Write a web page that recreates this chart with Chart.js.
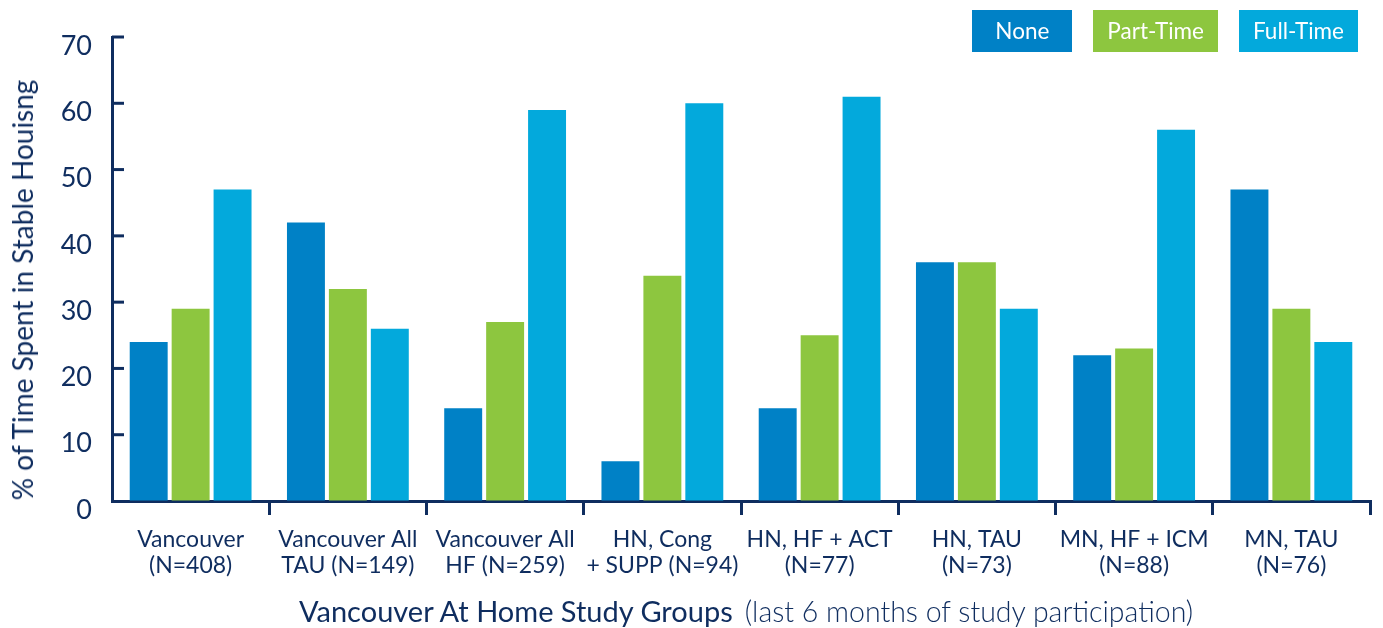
<!DOCTYPE html>
<html>
<head>
<meta charset="utf-8">
<script src="https://cdn.jsdelivr.net/npm/chart.js@4"></script>
<style>
    body { margin: 0; background: #fff; font-family: Lato, "Open Sans", sans-serif; color: #0f2d5f; }
    #wrap { position: relative; width: 1383px; height: 628px; }
    #legend { position: absolute; top: 10px; right: 25px; display: flex; gap: 21px; }
    .legend-box { height: 42px; line-height: 42px; min-width: 100px; padding: 0 14px; box-sizing: border-box;
        text-align: center; color: #fff; font-size: 22.5px; }
    #yTitle { position: absolute; left: 22px; top: 290px; transform: translate(-50%, -50%) rotate(-90deg);
        white-space: nowrap; font-size: 28px; }
    #xTitle { position: absolute; left: 299px; top: 593px; white-space: nowrap; font-size: 29px; }
    #xTitle span { font-size: 28.5px; font-weight: 300; margin-left: 12px; }
</style>
</head>
<body>
<div id="wrap">
    <canvas id="chart" width="1383" height="628"></canvas>
    <div id="legend"></div>
    <div id="yTitle">% of Time Spent in Stable Houisng</div>
    <div id="xTitle">Vancouver At Home Study Groups<span>(last 6 months of study participation)</span></div>
</div>
<script>
// Data
const categories = [
    ['Vancouver', '(N=408)'],
    ['Vancouver All', 'TAU (N=149)'],
    ['Vancouver All', 'HF (N=259)'],
    ['HN, Cong', '+ SUPP (N=94)'],
    ['HN, HF + ACT', '(N=77)'],
    ['HN, TAU', '(N=73)'],
    ['MN, HF + ICM', '(N=88)'],
    ['MN, TAU', '(N=76)']
];
const noneValues     = [24, 42, 14, 6, 14, 36, 22, 47];
const partTimeValues = [29, 32, 27, 34, 25, 36, 23, 29];
const fullTimeValues = [47, 26, 59, 60, 61, 29, 56, 24];
const seriesLabels = ['None', 'Part-Time', 'Full-Time'];
const seriesColors = ['#0081c6', '#8dc63f', '#03a9dc'];
const yTicks = [0, 10, 20, 30, 40, 50, 60, 70];

const NAVY = '#0f2d5f';

// Legend (HTML boxes)
const legendEl = document.getElementById('legend');
seriesLabels.forEach((label, i) => {
    const box = document.createElement('div');
    box.className = 'legend-box';
    box.style.background = seriesColors[i];
    box.textContent = label;
    legendEl.appendChild(box);
});

// Y ticks point into the plot area
const inwardTicks = {
    id: 'inwardTicks',
    afterDraw(chart) {
        const { ctx, chartArea, scales } = chart;
        ctx.save();
        ctx.strokeStyle = NAVY;
        ctx.lineWidth = 3;
        yTicks.forEach(v => {
            if (v === 0) return;
            const y = scales.y.getPixelForValue(v);
            ctx.beginPath();
            ctx.moveTo(chartArea.left, y);
            ctx.lineTo(chartArea.left + 12, y);
            ctx.stroke();
        });
        ctx.restore();
    }
};

const allValues = [noneValues, partTimeValues, fullTimeValues];

new Chart(document.getElementById('chart'), {
    type: 'bar',
    data: {
        labels: categories,
        datasets: seriesLabels.map((label, i) => ({
            label: label,
            data: allValues[i],
            backgroundColor: seriesColors[i],
            borderWidth: 0,
            categoryPercentage: 0.8,
            barPercentage: 0.905
        }))
    },
    options: {
        responsive: false,
        animation: false,
        layout: { padding: { top: 37, right: 13, left: 0, bottom: 0 } },
        plugins: {
            legend: { display: false },
            tooltip: { enabled: false }
        },
        scales: {
            x: {
                afterFit: (scale) => { scale.height = 127; },
                border: { color: NAVY, width: 3 },
                grid: {
                    drawOnChartArea: false,
                    drawTicks: true,
                    tickLength: 14,
                    lineWidth: 3,
                    color: (ctx) => (ctx.index === 0 || ctx.index === categories.length) ? 'rgba(0,0,0,0)' : NAVY
                },
                ticks: {
                    color: NAVY,
                    padding: 12,
                    maxRotation: 0,
                    autoSkip: false,
                    font: { family: 'Lato', size: 23, lineHeight: 1.13 }
                }
            },
            y: {
                min: 0,
                max: 70,
                afterFit: (scale) => { scale.width = 112; },
                border: { color: NAVY, width: 3 },
                grid: { drawOnChartArea: false, drawTicks: false },
                afterBuildTicks: (scale) => { scale.ticks = yTicks.map(v => ({ value: v })); },
                ticks: {
                    color: NAVY,
                    padding: 20,
                    labelOffset: 9,
                    font: { family: 'Lato', size: 27 }
                }
            }
        }
    },
    plugins: [inwardTicks]
});
</script>
</body>
</html>
